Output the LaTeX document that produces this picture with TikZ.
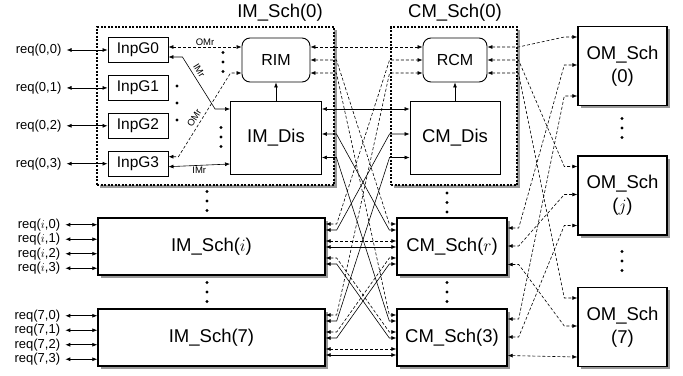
\documentclass[tikz,border=0pt]{standalone}
\usepackage{fontspec}
\setmainfont{Liberation Sans}
\usetikzlibrary{arrows.meta,positioning,shadows}

\begin{document}
\begin{tikzpicture}[x=1pt,y=-1pt,node distance=12pt]
  \tikzstyle{grp}=[draw,line width=1.4pt,dash pattern=on 2pt off 1.5pt,fill=white,inner sep=0pt,
    drop shadow={shadow xshift=2.5pt,shadow yshift=-2.5pt,fill=black!40,opacity=1}]
  \tikzstyle{sch}=[draw,line width=1.4pt,fill=white,inner sep=0pt,align=center,
    drop shadow={shadow xshift=2.5pt,shadow yshift=-2.5pt,fill=black!40,opacity=1},
    font=\fontsize{18.5}{23}\selectfont]
  \tikzstyle{inpg}=[draw,line width=0.9pt,fill=white,minimum width=60pt,minimum height=25pt,
    inner sep=0pt,font=\fontsize{15.5}{18}\selectfont]
  \tikzstyle{rblk}=[draw,line width=0.9pt,fill=white,rounded corners=8pt,minimum height=44pt,
    inner sep=0pt,font=\fontsize{16}{19}\selectfont]
  \tikzstyle{dis}=[draw,line width=0.9pt,fill=white,minimum height=73pt,
    inner sep=0pt,font=\fontsize{18.5}{22}\selectfont]
  \tikzstyle{hdr}=[inner sep=1pt,font=\fontsize{18.5}{22}\selectfont]
  \tikzstyle{reqlbl}=[inner sep=1pt,font=\fontsize{13}{15}\selectfont]
  \tikzstyle{tag}=[inner sep=1.5pt,font=\fontsize{9.5}{11}\selectfont]
  \tikzstyle{req}=[{Latex[length=5pt,width=4pt]}-{Latex[length=5pt,width=4pt]},line width=0.7pt,shorten <=4pt]
  \tikzstyle{link}=[{Latex[length=5pt,width=4pt]}-{Latex[length=5pt,width=4pt]},line width=0.6pt]
  \tikzstyle{rlink}=[link,dash pattern=on 3pt off 2pt]
  \tikzstyle{up}=[-{Latex[length=5pt,width=4pt]},line width=0.7pt]

  \useasboundingbox (0,0) rectangle (683,375);

  % -- IM_Sch(0), opened up --
  \node[grp,minimum width=237pt,minimum height=158pt] (imz) at (215.5,106) {};
  \node[hdr] (imzname) at (280,13) {IM\_Sch(0)};
  \node[inpg] (inpg0) at (138,50) {InpG0};
  \node[inpg,below=of inpg0] (inpg1) {InpG1};
  \node[inpg,below=of inpg1] (inpg2) {InpG2};
  \node[inpg,below=of inpg2] (inpg3) {InpG3};
  \node[rblk,minimum width=68pt] (rim) at (276,60) {RIM};
  \node[dis,minimum width=91pt] (imdis) at (276,137.5) {IM\_Dis};

  % -- CM_Sch(0), opened up --
  \node[grp,minimum width=126pt,minimum height=158pt] (cmz) at (454,106) {};
  \node[hdr] (cmzname) at (455,13) {CM\_Sch(0)};
  \node[rblk,minimum width=64pt] (rcm) at (455,60) {RCM};
  \node[dis,minimum width=90pt] (cmdis) at (455,137.5) {CM\_Dis};

  % -- other IM / CM schedulers --
  \node[sch,minimum width=227pt,minimum height=57pt] (imi)   at (211.5,246.5) {IM\_Sch($i$)};
  \node[sch,minimum width=227pt,minimum height=57pt] (imsev) at (211.5,337.5) {IM\_Sch(7)};
  \node[sch,minimum width=110pt,minimum height=57pt] (cmr)   at (452,246.5) {CM\_Sch($r$)};
  \node[sch,minimum width=110pt,minimum height=57pt] (cmthree) at (452,337.5) {CM\_Sch(3)};

  % -- OM schedulers --
  \node[sch,minimum width=89pt,minimum height=79pt] (omz)   at (622.5,66) {OM\_Sch\\(0)};
  \node[sch,minimum width=89pt,minimum height=79pt] (omj)   at (622.5,195.5) {OM\_Sch\\($j$)};
  \node[sch,minimum width=89pt,minimum height=79pt] (omsev) at (622.5,327) {OM\_Sch\\(7)};

  % -- requests --
  \node[reqlbl,left=45pt of inpg0] (req00) {req(0,0)};
  \node[reqlbl,left=45pt of inpg1] (req01) {req(0,1)};
  \node[reqlbl,left=45pt of inpg2] (req02) {req(0,2)};
  \node[reqlbl,left=45pt of inpg3] (req03) {req(0,3)};
  \node[reqlbl,left=36pt of imi.west,yshift=21.75pt]  (reqi0) {req($i$,0)};
  \node[reqlbl,left=36pt of imi.west,yshift=7.25pt]   (reqi1) {req($i$,1)};
  \node[reqlbl,left=36pt of imi.west,yshift=-7.25pt]  (reqi2) {req($i$,2)};
  \node[reqlbl,left=36pt of imi.west,yshift=-21.75pt] (reqi3) {req($i$,3)};
  \node[reqlbl,left=36pt of imsev.west,yshift=21.75pt]  (req70) {req(7,0)};
  \node[reqlbl,left=36pt of imsev.west,yshift=7.25pt]   (req71) {req(7,1)};
  \node[reqlbl,left=36pt of imsev.west,yshift=-7.25pt]  (req72) {req(7,2)};
  \node[reqlbl,left=36pt of imsev.west,yshift=-21.75pt] (req73) {req(7,3)};
  \draw[req] (req00) -- (inpg0);
  \draw[req] (req01) -- (inpg1);
  \draw[req] (req02) -- (inpg2);
  \draw[req] (req03) -- (inpg3);
  \draw[req] (reqi0.east) -- (reqi0.east -| imi.west);
  \draw[req] (reqi1.east) -- (reqi1.east -| imi.west);
  \draw[req] (reqi2.east) -- (reqi2.east -| imi.west);
  \draw[req] (reqi3.east) -- (reqi3.east -| imi.west);
  \draw[req] (req70.east) -- (req70.east -| imsev.west);
  \draw[req] (req71.east) -- (req71.east -| imsev.west);
  \draw[req] (req72.east) -- (req72.east -| imsev.west);
  \draw[req] (req73.east) -- (req73.east -| imsev.west);

  % -- inside IM_Sch(0) --
  \draw[rlink] ([yshift=3pt]inpg0.east) -- node[tag,above] (omrtop) {OMr} ([yshift=13pt]rim.west);
  \draw[link] ([yshift=-7pt]inpg0.east) -- ++(14pt,0)
    -- node[tag,sloped,above=2pt,pos=0.33] (imrdiag) {IMr} ([xshift=-15pt,yshift=28.5pt]imdis.west)
    -- ([yshift=28.5pt]imdis.west);
  \draw[rlink] ([yshift=7pt]inpg3.east) -- ++(10pt,0)
    -- node[tag,sloped,above=2pt,pos=0.42] (omrdiag) {OMr} ([xshift=-11pt,yshift=-13pt]rim.west)
    -- ([yshift=-13pt]rim.west);
  \draw[link] ([yshift=-3pt]inpg3.east) -- node[tag,below] (imrbot) {IMr} ([yshift=-26.5pt]imdis.west);
  \draw[up] (imdis) -- (rim);
  \draw[up] (cmdis) -- (rcm);

  % -- dots --
  \fill (223,52.5) circle (1.7pt) (223,62) circle (1.7pt) (223,71.5) circle (1.7pt);
  \fill (177,86) circle (1.7pt) (177,103) circle (1.7pt) (177,120) circle (1.7pt);
  \fill (221,127.5) circle (1.7pt) (221,137) circle (1.7pt) (221,146.5) circle (1.7pt);
  \fill (207,191.5) circle (1.7pt) (207,201) circle (1.7pt) (207,210.5) circle (1.7pt);
  \fill (207,282.5) circle (1.7pt) (207,292) circle (1.7pt) (207,301.5) circle (1.7pt);
  \fill (447,193) circle (1.7pt) (447,202.5) circle (1.7pt) (447,212) circle (1.7pt);
  \fill (447,282.5) circle (1.7pt) (447,292) circle (1.7pt) (447,301.5) circle (1.7pt);
  \fill (622,118.5) circle (1.7pt) (622,128) circle (1.7pt) (622,137.5) circle (1.7pt);
  \fill (622,251.5) circle (1.7pt) (622,261) circle (1.7pt) (622,270.5) circle (1.7pt);

  % -- IM <-> CM --
  \draw[rlink] ([yshift=13pt]rim.east) -- ([yshift=13pt]rcm.west);
  \draw[link] ([yshift=28.5pt]imdis.east) -- ([yshift=28.5pt]cmdis.west);
  \draw[rlink] (rim.east) -- ++(26pt,0) -- ([xshift=-7pt,yshift=22.5pt]cmr.west) -- ([yshift=22.5pt]cmr.west);
  \draw[link] ([yshift=3.5pt]imdis.east) -- ++(14.5pt,0) -- ([xshift=-7pt,yshift=16.5pt]cmr.west) -- ([yshift=16.5pt]cmr.west);
  \draw[rlink] ([yshift=-13pt]rim.east) -- ++(26pt,0) -- ([xshift=-7pt,yshift=22.5pt]cmthree.west) -- ([yshift=22.5pt]cmthree.west);
  \draw[link] ([yshift=-20pt]imdis.east) -- ++(14.5pt,0) -- ([xshift=-7pt,yshift=16.5pt]cmthree.west) -- ([yshift=16.5pt]cmthree.west);

  \draw[rlink] ([yshift=22.5pt]imi.east) -- ++(11pt,0) -- ([xshift=-33pt]rcm.west) -- (rcm.west);
  \draw[link] ([yshift=16.5pt]imi.east) -- ++(11pt,0) -- ([xshift=-20pt,yshift=3.5pt]cmdis.west) -- ([yshift=3.5pt]cmdis.west);
  \draw[rlink] ([yshift=5.5pt]imi.east) -- ([yshift=5.5pt]cmr.west);
  \draw[link] ([yshift=-0.5pt]imi.east) -- ([yshift=-0.5pt]cmr.west);
  \draw[rlink] ([yshift=-11.5pt]imi.east) -- ++(11pt,0) -- ([xshift=-7pt,yshift=5.5pt]cmthree.west) -- ([yshift=5.5pt]cmthree.west);
  \draw[link] ([yshift=-17.5pt]imi.east) -- ++(11pt,0) -- ([xshift=-7pt,yshift=-0.5pt]cmthree.west) -- ([yshift=-0.5pt]cmthree.west);

  \draw[rlink] ([yshift=22.5pt]imsev.east) -- ++(11pt,0) -- ([xshift=-33pt,yshift=-13pt]rcm.west) -- ([yshift=-13pt]rcm.west);
  \draw[link] ([yshift=16.5pt]imsev.east) -- ++(11pt,0) -- ([xshift=-20pt,yshift=-20pt]cmdis.west) -- ([yshift=-20pt]cmdis.west);
  \draw[rlink] ([yshift=5.5pt]imsev.east) -- ++(11pt,0) -- ([xshift=-7pt,yshift=-11.5pt]cmr.west) -- ([yshift=-11.5pt]cmr.west);
  \draw[link] ([yshift=-0.5pt]imsev.east) -- ++(11pt,0) -- ([xshift=-7pt,yshift=-17.5pt]cmr.west) -- ([yshift=-17.5pt]cmr.west);
  \draw[rlink] ([yshift=-11.5pt]imsev.east) -- ([yshift=-11.5pt]cmthree.west);
  \draw[link] ([yshift=-17.5pt]imsev.east) -- ([yshift=-17.5pt]cmthree.west);

  % -- CM <-> OM --
  \draw[rlink] ([yshift=13pt]rcm.east) -- ++(31pt,0) -- ([xshift=-13pt,yshift=29pt]omz.west) -- ([yshift=29pt]omz.west);
  \draw[rlink] (rcm.east) -- ++(31pt,0) -- ([xshift=-13pt,yshift=29pt]omj.west) -- ([yshift=29pt]omj.west);
  \draw[rlink] ([yshift=-13pt]rcm.east) -- ++(31pt,0) -- ([xshift=-13pt,yshift=29pt]omsev.west) -- ([yshift=29pt]omsev.west);
  \draw[rlink] ([yshift=18.5pt]cmr.east) -- ++(11pt,0) -- ([xshift=-13pt,yshift=1pt]omz.west) -- ([yshift=1pt]omz.west);
  \draw[rlink] ([yshift=0.5pt]cmr.east) -- ++(11pt,0) -- ([xshift=-13pt,yshift=1pt]omj.west) -- ([yshift=1pt]omj.west);
  \draw[rlink] ([yshift=-18pt]cmr.east) -- ++(11pt,0) -- ([xshift=-13pt,yshift=1pt]omsev.west) -- ([yshift=1pt]omsev.west);
  \draw[rlink] ([yshift=18.5pt]cmthree.east) -- ++(11pt,0) -- ([xshift=-13pt,yshift=-30pt]omz.west) -- ([yshift=-30pt]omz.west);
  \draw[rlink] ([yshift=0.5pt]cmthree.east) -- ++(11pt,0) -- ([xshift=-13pt,yshift=-30pt]omj.west) -- ([yshift=-30pt]omj.west);
  \draw[rlink] ([yshift=-18pt]cmthree.east) -- ([yshift=-30pt]omsev.west);
\end{tikzpicture}
\end{document}
